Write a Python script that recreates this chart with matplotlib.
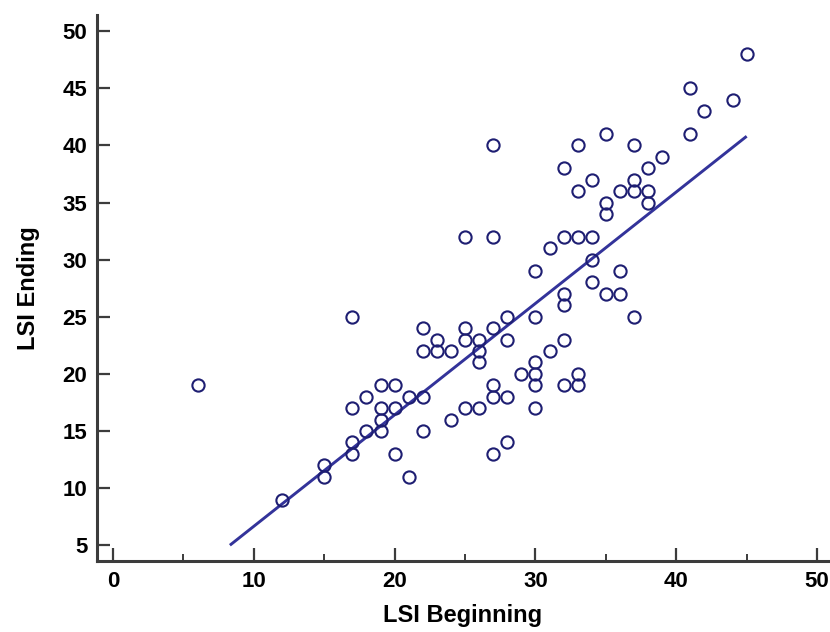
import matplotlib
matplotlib.use("Agg")
import matplotlib.pyplot as plt
from matplotlib.ticker import MultipleLocator

plt.rcParams['font.family'] = ['Liberation Sans', 'DejaVu Sans']

# LSI scores, beginning vs ending
lsi_begin = [6, 12, 15, 15, 17, 17, 17, 17, 18, 18, 19, 19, 19, 19, 20, 20, 20,
             21, 21, 22, 22, 22, 22, 23, 23, 24, 24, 25, 25, 25, 25, 26, 26, 26, 26,
             27, 27, 27, 27, 27, 27, 28, 28, 28, 28, 29, 30, 30, 30, 30, 30, 30,
             31, 31, 32, 32, 32, 32, 32, 32, 33, 33, 33, 33, 33, 34, 34, 34, 34,
             35, 35, 35, 35, 36, 36, 36, 37, 37, 37, 37, 38, 38, 38, 39, 41, 41,
             42, 44, 45]
lsi_end = [19, 9, 12, 11, 25, 17, 14, 13, 18, 15, 19, 17, 16, 15, 19, 17, 13,
           18, 11, 24, 22, 18, 15, 23, 22, 22, 16, 32, 24, 23, 17, 23, 22, 21, 17,
           40, 32, 24, 19, 18, 13, 25, 23, 18, 14, 20, 29, 25, 21, 20, 19, 17,
           31, 22, 38, 32, 27, 26, 23, 19, 40, 36, 32, 20, 19, 37, 32, 30, 28,
           41, 35, 34, 27, 36, 29, 27, 40, 37, 36, 25, 38, 36, 35, 39, 45, 41,
           43, 44, 48]

# regression line end points
fit_x = [8.3, 45.0]
fit_y = [5.0, 40.8]

x_ticks = [0, 10, 20, 30, 40, 50]
y_ticks = [5, 10, 15, 20, 25, 30, 35, 40, 45, 50]

fig = plt.figure(figsize=(8.3, 6.32), dpi=100)
ax = fig.add_axes([0.117, 0.112, 0.881, 0.864])

ax.plot(fit_x, fit_y, color='#33339a', lw=2.1, solid_capstyle='butt', zorder=2)
ax.plot(lsi_begin, lsi_end, 'o', ms=8.8, mfc='none', mec='#1e1e72', mew=1.5, zorder=3)

ax.set_xlim(-1.13, 50.8)
ax.set_ylim(3.6, 51.4)
ax.set_xticks(x_ticks)
ax.set_yticks(y_ticks)
ax.xaxis.set_minor_locator(MultipleLocator(5))

for s in ['top', 'right']:
    ax.spines[s].set_visible(False)
for s in ['left', 'bottom']:
    ax.spines[s].set_linewidth(2.2)
    ax.spines[s].set_color('#3c3c3c')

ax.tick_params(axis='both', which='major', direction='in', length=9.5, width=1.6,
               color='#3c3c3c', labelsize=16, pad=7)
ax.tick_params(axis='x', which='minor', direction='in', length=5, width=1.4, color='#3c3c3c')
for lab in ax.get_xticklabels() + ax.get_yticklabels():
    lab.set_fontweight('bold')

ax.set_xlabel('LSI Beginning', fontsize=17, fontweight='bold', labelpad=9)
ax.set_ylabel('LSI Ending', fontsize=17, fontweight='bold', labelpad=16)

fig.savefig('out.png', dpi=100)
